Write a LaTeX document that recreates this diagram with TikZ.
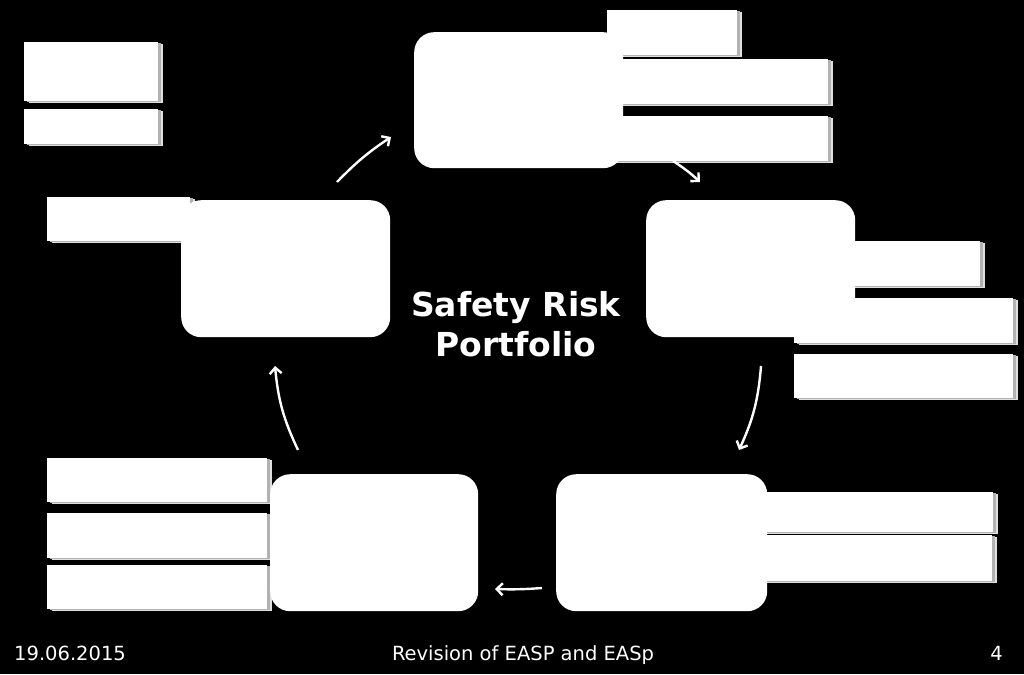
\documentclass[tikz,border=0pt]{standalone}
\usepackage{fontspec}
\setmainfont{DejaVu Sans}
\usetikzlibrary{arrows.meta}
\begin{document}
\begin{tikzpicture}[x=1pt,y=-1pt,
  glowrect/.style={fill=white, draw=none, inner sep=0pt, anchor=north west,
    preaction={fill=gray!25, transform canvas={xshift=4.5pt,yshift=-1.5pt}},
    preaction={fill=gray!60, transform canvas={xshift=2.5pt,yshift=-0.8pt}}},
  roundbox/.style={fill=white, draw=none, rounded corners=20pt, inner sep=0pt, anchor=north west},
  cyc/.style={draw=white, line width=2.4pt, -{Straight Barb[length=6pt,width=12pt]}},
  foot/.style={text=white, font=\fontsize{19.5}{23}\selectfont, inner sep=0pt},
  title/.style={text=white, font=\fontsize{33}{40}\selectfont\bfseries, inner sep=0pt, anchor=base}]
\fill[black] (0,0) rectangle (1024,674);
\useasboundingbox (0,0) rectangle (1024,674);

% rectangles
\node[glowrect, minimum width=130pt, minimum height=45pt] (t1) at (607,10) {};
\node[glowrect, minimum width=228pt, minimum height=45pt] (t2) at (600,59) {};
\node[glowrect, minimum width=228pt, minimum height=45pt] (t3) at (600,116) {};
\node[glowrect, minimum width=150pt, minimum height=45pt] (r1) at (830,241) {};
\node[glowrect, minimum width=219pt, minimum height=45pt] (r2) at (794,298) {};
\node[glowrect, minimum width=219pt, minimum height=44pt] (r3) at (794,354) {};
\node[glowrect, minimum width=253pt, minimum height=40pt] (b1) at (740,492) {};
\node[glowrect, minimum width=252pt, minimum height=46pt] (b2) at (740,535) {};
\node[glowrect, minimum width=220pt, minimum height=44pt] (l1) at (47,458) {};
\node[glowrect, minimum width=220pt, minimum height=45pt] (l2) at (47,513) {};
\node[glowrect, minimum width=220pt, minimum height=44pt] (l3) at (47,565) {};
\node[glowrect, minimum width=143pt, minimum height=44pt] (m1) at (47,197) {};
\node[glowrect, minimum width=134pt, minimum height=59pt] (k1) at (24,42) {};
\node[glowrect, minimum width=134pt, minimum height=35pt] (k2) at (24,109) {};

% rounded boxes
\node[roundbox, minimum width=209pt, minimum height=136pt] (T) at (414,32) {};
\node[roundbox, minimum width=209pt, minimum height=137pt] (R) at (646,200) {};
\node[roundbox, minimum width=211pt, minimum height=137pt] (BR) at (556,474) {};
\node[roundbox, minimum width=208pt, minimum height=137pt] (BL) at (270,474) {};
\node[roundbox, minimum width=209pt, minimum height=137pt] (L) at (181,200) {};

% arrow end points
\coordinate (a1s) at (337,182); \coordinate (a1e) at (391,137);
\coordinate (a2s) at (673,161); \coordinate (a2e) at (700,182);
\coordinate (a3s) at (761,366); \coordinate (a3e) at (739,450);
\coordinate (a4s) at (542,588); \coordinate (a4e) at (495,589);
\coordinate (a5s) at (298,450); \coordinate (a5e) at (275,366);
\draw[cyc] (a1s) to[bend left=6] (a1e);
\draw[cyc] (a2s) to[bend left=5] (a2e);
\draw[cyc] (a3s) to[bend left=10] (a3e);
\draw[cyc] (a4s) to[bend left=3] (a4e);
\draw[cyc] (a5s) to[bend left=10] (a5e);

% title
\node[title] (ttl1) at (516,316) {Safety Risk};
\node[title] (ttl2) at (516,356) {Portfolio};

% footer
\node[foot, anchor=base west] (date) at (14,660) {19.06.2015};
\node[foot, anchor=base] (ftitle) at (523,660) {Revision of EASP and EASp};
\node[foot, anchor=base east] (page) at (1003,660) {4};
\end{tikzpicture}
\end{document}
